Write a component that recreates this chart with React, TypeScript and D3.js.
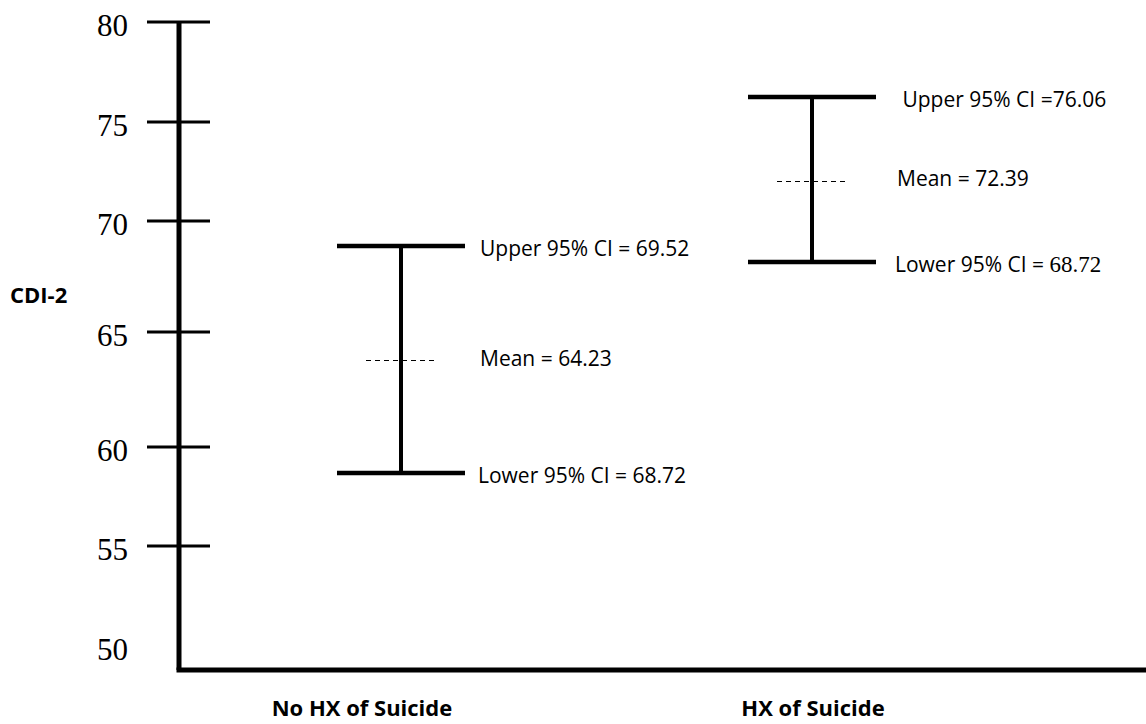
import React, { useEffect, useRef } from 'react';
import * as d3 from 'd3';

// groups on the x axis
const categories = ['No HX of Suicide', 'HX of Suicide'];

// where the marks sit on the CDI-2 scale
const upperValues = [68.87, 76.25];
const meanValues = [63.74, 72.02];
const lowerValues = [58.69, 68.15];

// text printed beside each mark (as written in the original, typo included)
const upperLabels = ['Upper 95% CI = 69.52', ' Upper 95% CI =76.06'];
const meanLabels = ['Mean = 64.23', 'Mean = 72.39'];
const lowerLabels = ['Lower 95% CI = ', 'Lower 95% CI = '];
const lowerNumbers = ['68.72', '68.72'];
const lowerSerif = [false, true];

const yTicks = [80, 75, 70, 65, 60, 55, 50];
const yTitle = 'CDI-2';

const SANS = '"Open Sans", "Noto Sans", sans-serif';
const SERIF = '"Liberation Serif", "Times New Roman", serif';

const App = () => {
    const svgRef = useRef(null);

    useEffect(() => {
        if (!svgRef.current) return;
        const svg = d3.select(svgRef.current);
        svg.selectAll('*').remove();

        const dims = { width: 1146, height: 724, axisX: 179, axisTop: 22, axisBottom: 670 };

        svg.attr('width', dims.width).attr('height', dims.height);

        // the printed axis is not evenly spaced, so use a piecewise scale
        const yScale = d3.scaleLinear()
            .domain([50, 55, 60, 65, 70, 75, 80])
            .range([646, 546, 447, 332, 221, 122, 22]);

        const xScale = d3.scalePoint()
            .domain(categories)
            .range([401, 812]);

        const labelScale = d3.scalePoint()
            .domain(categories)
            .range([362, 813]);

        const ctr = svg.append('g');

        // y axis ticks + labels
        ctr.selectAll('line.tick')
            .data(yTicks.filter(t => t !== 50))
            .join('line')
            .classed('tick', true)
            .attr('x1', 147)
            .attr('x2', 210)
            .attr('y1', d => yScale(d))
            .attr('y2', d => yScale(d))
            .attr('stroke', '#000')
            .attr('stroke-width', 3);

        ctr.selectAll('text.tick-label')
            .data(yTicks)
            .join('text')
            .classed('tick-label', true)
            .attr('x', 128)
            .attr('y', d => yScale(d) + 14)
            .attr('text-anchor', 'end')
            .style('font-family', SERIF)
            .style('font-size', '31px')
            .text(d => d);

        // axis lines
        ctr.append('line')
            .attr('x1', dims.axisX).attr('x2', dims.axisX)
            .attr('y1', dims.axisTop).attr('y2', dims.axisBottom)
            .attr('stroke', '#000').attr('stroke-width', 5);

        ctr.append('line')
            .attr('x1', dims.axisX - 2.5).attr('x2', dims.width)
            .attr('y1', dims.axisBottom).attr('y2', dims.axisBottom)
            .attr('stroke', '#000').attr('stroke-width', 5);

        // y title
        ctr.append('text')
            .attr('x', 10)
            .attr('y', 303)
            .style('font-family', SANS)
            .style('font-size', '22px')
            .style('font-weight', 700)
            .text(yTitle);

        // category labels
        ctr.selectAll('text.cat')
            .data(categories)
            .join('text')
            .classed('cat', true)
            .attr('x', d => labelScale(d))
            .attr('y', 716)
            .attr('text-anchor', 'middle')
            .style('font-family', SANS)
            .style('font-size', '22px')
            .style('font-weight', 700)
            .text(d => d);

        // error bars
        const bars = categories.map((c, i) => ({
            cat: c,
            upper: upperValues[i],
            mean: meanValues[i],
            lower: lowerValues[i],
            upperLabel: upperLabels[i],
            meanLabel: meanLabels[i],
            lowerLabel: lowerLabels[i],
            lowerNumber: lowerNumbers[i],
            serif: lowerSerif[i],
            dx: i === 0 ? 79 : 85
        }));

        const capHalf = 64;
        const g = ctr.selectAll('g.bar')
            .data(bars)
            .join('g')
            .classed('bar', true);

        g.append('line')
            .attr('x1', d => xScale(d.cat)).attr('x2', d => xScale(d.cat))
            .attr('y1', d => yScale(d.upper)).attr('y2', d => yScale(d.lower))
            .attr('stroke', '#000').attr('stroke-width', 4);

        ['upper', 'lower'].forEach(key => {
            g.append('line')
                .attr('x1', d => xScale(d.cat) - capHalf)
                .attr('x2', d => xScale(d.cat) + capHalf)
                .attr('y1', d => yScale(d[key]))
                .attr('y2', d => yScale(d[key]))
                .attr('stroke', '#000').attr('stroke-width', 4.5);
        });

        // dashed mean marker
        g.append('line')
            .attr('x1', d => xScale(d.cat) - 35)
            .attr('x2', d => xScale(d.cat) + 35)
            .attr('y1', d => yScale(d.mean))
            .attr('y2', d => yScale(d.mean))
            .attr('stroke', '#000').attr('stroke-width', 1)
            .attr('shape-rendering', 'crispEdges')
            .attr('stroke-dasharray', '5,4');

        const labelStyle = sel => sel
            .style('font-family', SANS)
            .style('font-size', '21px')
            .style('white-space', 'pre');

        g.append('text')
            .attr('x', d => xScale(d.cat) + d.dx)
            .attr('y', d => yScale(d.upper) + 10)
            .call(labelStyle)
            .text(d => d.upperLabel);

        g.append('text')
            .attr('x', d => xScale(d.cat) + d.dx)
            .attr('y', d => yScale(d.mean) + 5)
            .call(labelStyle)
            .text(d => d.meanLabel);

        const low = g.append('text')
            .attr('x', d => xScale(d.cat) + d.dx - 2)
            .attr('y', d => yScale(d.lower) + 10)
            .call(labelStyle);
        low.append('tspan').text(d => d.lowerLabel);
        low.append('tspan')
            .style('font-family', d => d.serif ? SERIF : SANS)
            .style('font-size', d => d.serif ? '23px' : '21px')
            .text(d => d.lowerNumber);
    }, []);

    return (
        <div>
            <svg ref={svgRef} style={{ position: 'absolute', left: 0, top: 0, background: '#fff' }}></svg>
        </div>
    );
};

export default App;
